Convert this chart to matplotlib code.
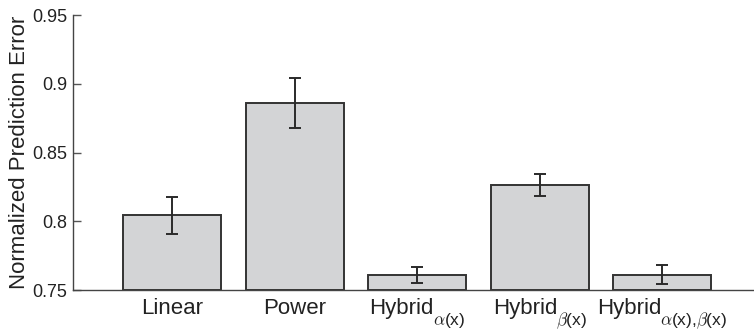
import matplotlib
matplotlib.use('Agg')
import matplotlib.pyplot as plt

plt.rcParams['font.family'] = ['Liberation Sans', 'DejaVu Sans']
plt.rcParams['mathtext.fontset'] = 'cm'

# Normalized prediction error for each model, with standard error bars
models = ['Linear', 'Power', 'Hybrid', 'Hybrid', 'Hybrid']
model_subs = ['', '', r'$\alpha$(x)', r'$\beta$(x)', r'$\alpha$(x),$\beta$(x)']
errors = [0.8045, 0.8858, 0.7607, 0.8266, 0.7612]
stderr = [0.0135, 0.0183, 0.0057, 0.0079, 0.0069]
yticks = [0.75, 0.8, 0.85, 0.9, 0.95]
ytick_labels = ['0.75', '0.8', '0.85', '0.9', '0.95']

text_color = '#222222'
fig = plt.figure(figsize=(7.54, 3.3), dpi=100)
ax = fig.add_axes([0.0968, 0.1212, 0.9032, 0.8333])

pos = list(range(1, len(models) + 1))
ax.bar(pos, [e - 0.75 for e in errors], bottom=0.75, width=0.8,
       color='#d3d4d6', edgecolor='#333333', linewidth=1.4, zorder=2)
ax.errorbar(pos, errors, yerr=stderr, fmt='none', ecolor='#2a2a2a',
            elinewidth=1.4, capsize=4.3, capthick=1.4, zorder=3)

ax.set_xlim(0.19, 5.75)
ax.set_ylim(0.75, 0.95)
ax.set_yticks(yticks)
ax.set_yticklabels(ytick_labels)
ax.set_xticks(pos)
ax.set_xticklabels([''] * len(pos))
ax.set_ylabel('Normalized Prediction Error', fontsize=16, color=text_color, labelpad=2)

ax.tick_params(axis='y', direction='in', length=6, width=1, color='#555555',
               labelsize=13, labelcolor=text_color, pad=4)
ax.tick_params(axis='x', length=0)

for side in ['top', 'right']:
    ax.spines[side].set_visible(False)
for side in ['left', 'bottom']:
    ax.spines[side].set_color('#444444')
    ax.spines[side].set_linewidth(1)

# category labels: name plus a dropped subscript, centred together under each bar
main_drop = 17.6   # baseline offset below the axis, points
sub_drop = 25.3
gap = -1.0
labels = []
for p, name, sub in zip(pos, models, model_subs):
    t1 = ax.annotate(name, xy=(p, 0), xycoords=('data', 'axes fraction'),
                     xytext=(0, -main_drop), textcoords='offset points',
                     ha='left', va='baseline', fontsize=16, color=text_color)
    t2 = None
    if sub:
        t2 = ax.annotate(sub, xy=(p, 0), xycoords=('data', 'axes fraction'),
                         xytext=(0, -sub_drop), textcoords='offset points',
                         ha='left', va='baseline', fontsize=12.5, color=text_color)
    labels.append((t1, t2))

fig.canvas.draw()
renderer = fig.canvas.get_renderer()
px_to_pt = 72.0 / fig.dpi
for t1, t2 in labels:
    w1 = t1.get_window_extent(renderer).width * px_to_pt
    w2 = t2.get_window_extent(renderer).width * px_to_pt + gap if t2 else 0
    start = -(w1 + w2) / 2
    t1.set_position((start, -main_drop))
    if t2:
        t2.set_position((start + w1 + gap, -sub_drop))

fig.savefig('out.png', dpi=100)
